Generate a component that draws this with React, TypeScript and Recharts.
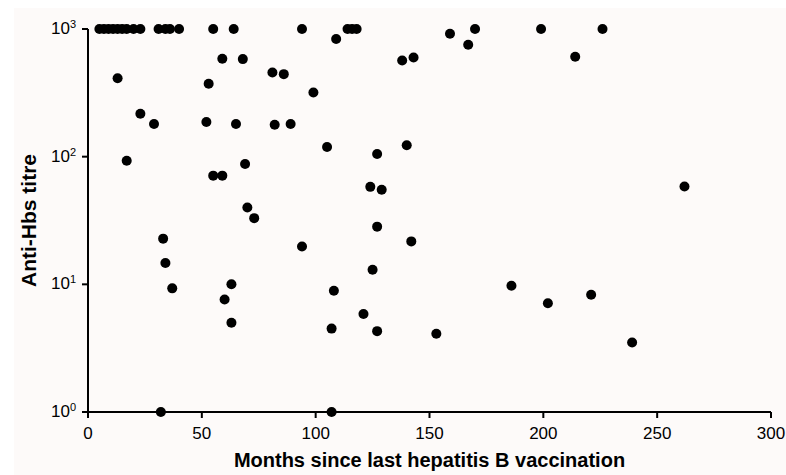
import { ScatterChart, Scatter, XAxis, YAxis } from 'recharts';

// months since last vaccination, and measured anti-HBs titre (same order)
const months = [
  5, 7, 9, 11, 13, 15, 17, 20, 23, 31, 34, 36, 40, 55, 64, 94, 114, 116, 118, 170, 199, 226,
  159, 109, 167, 214, 143, 59, 68, 138, 81, 86, 13, 53, 99, 23, 52, 29, 65, 89, 82,
  140, 105, 127, 17, 69, 55, 59, 262, 124, 129, 70, 73, 127, 33, 142, 94, 34, 125,
  63, 186, 37, 108, 221, 60, 202, 121, 63, 107, 127, 153, 239, 32, 107,
];
const titres = [
  1000, 1000, 1000, 1000, 1000, 1000, 1000, 1000, 1000, 1000, 1000, 1000, 1000, 1000, 1000, 1000, 1000, 1000, 1000, 1000, 1000, 1000,
  917, 834, 752, 606, 598, 584, 581, 567, 456, 443, 412, 372, 318, 217, 187, 180, 180, 180, 178,
  123, 119, 105, 93, 87.6, 71, 71, 58.4, 58, 55, 40, 33, 28.3, 22.8, 21.7, 19.8, 14.7, 13,
  10, 9.75, 9.3, 8.9, 8.3, 7.6, 7.1, 5.85, 5, 4.5, 4.3, 4.1, 3.5, 1, 1,
];
const xTicks = [0, 50, 100, 150, 200, 250, 300];
const yTicks = [1, 10, 100, 1000];

const points = months.map((m, i) => ({ x: m, y: titres[i] }));

const FONT = '"Liberation Sans", Arial, sans-serif';

function PowerTick(props: any) {
  const { x, y, payload } = props;
  const exp = Math.round(Math.log10(payload.value));
  return (
    <text x={x} y={y + 5} textAnchor="end" fontFamily={FONT} fontSize={17} fill="#000">
      <tspan>10</tspan>
      <tspan dy={-6} fontSize={11}>{exp}</tspan>
    </text>
  );
}

const Dot = (props: any) => <circle cx={props.cx} cy={props.cy} r={5} fill="#000" />;

export default function App() {
  return (
    <div style={{ position: 'absolute', left: 14, top: 8, width: 772, height: 467, background: '#fdfaf9' }}>
      <style>{'body{margin:0;overflow:hidden}'}</style>
      <ScatterChart width={772} height={467} margin={{ top: 21, right: 15, bottom: 33, left: 5 }}>
        <XAxis
          type="number"
          dataKey="x"
          domain={[0, 300]}
          ticks={xTicks}
          tickSize={6}
          tickMargin={9}
          axisLine={{ stroke: '#000', strokeWidth: 2 }}
          tickLine={{ stroke: '#000', strokeWidth: 2 }}
          tick={{ fill: '#000', fontSize: 17, fontFamily: FONT }}
          height={30}
          label={{
            value: 'Months since last hepatitis B vaccination',
            position: 'bottom',
            offset: 11,
            style: { fill: '#000', fontSize: 20, fontWeight: 'bold', fontFamily: FONT },
          }}
        />
        <YAxis
          type="number"
          dataKey="y"
          scale="log"
          domain={[1, 1000]}
          ticks={yTicks}
          width={69}
          tickSize={6}
          tickMargin={6}
          axisLine={{ stroke: '#000', strokeWidth: 2 }}
          tickLine={{ stroke: '#000', strokeWidth: 2 }}
          tick={<PowerTick />}
          label={{
            value: 'Anti-Hbs titre',
            angle: -90,
            position: 'insideLeft',
            offset: 10,
            style: { fill: '#000', fontSize: 21, fontWeight: 'bold', fontFamily: FONT, textAnchor: 'middle' },
          }}
        />
        <Scatter data={points} fill="#000" shape={<Dot />} isAnimationActive={false} />
      </ScatterChart>
    </div>
  );
}
